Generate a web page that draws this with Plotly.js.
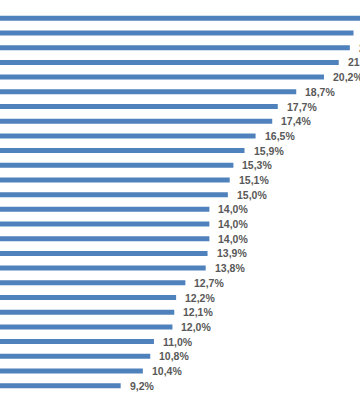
<!DOCTYPE html>
<html>
<head>
<meta charset="utf-8">
<script src="https://cdn.plot.ly/plotly-3.0.1.min.js"></script>
<style>html,body{margin:0;padding:0;background:#fff;}#chart{width:360px;height:400px;}</style>
</head>
<body>
<div id="chart"></div>
<script>
// Categories (their names are cut off in the reference; placeholders)
const categories = ['A','B','C','D','E','F','G','H','I','J','K','L','M','N','O','P','Q','R','S','T','U','V','W','X','Y','Z'];
// Percent values, top to bottom
const values = [23.0, 21.8, 21.6, 21.0, 20.2, 18.7, 17.7, 17.4, 16.5, 15.9, 15.3, 15.1, 15.0, 14.0, 14.0, 14.0, 13.9, 13.8, 12.7, 12.2, 12.1, 12.0, 11.0, 10.8, 10.4, 9.2];

const trace = {
  type: 'bar',
  orientation: 'h',
  x: values,
  y: categories,
  marker: {color: '#4F81BD', line: {width: 0}},
  hoverinfo: 'skip'
};

const annotations = values.map((v, i) => ({
  x: v, y: categories[i], xref: 'x', yref: 'y',
  text: v.toFixed(1).replace('.', ',') + '%',
  showarrow: false, xanchor: 'left', yanchor: 'middle', xshift: 7,
  font: {family: 'Liberation Sans, Arial, sans-serif', size: 10.5, color: '#595959', weight: 'bold'}
}));

const layout = {
  width: 360, height: 400,
  margin: {l: 0, r: 0, t: 11, b: 7, pad: 0},
  paper_bgcolor: '#ffffff', plot_bgcolor: '#ffffff',
  bargap: 0.66,
  showlegend: false,
  annotations: annotations,
  xaxis: {range: [2.67, 22.15], showgrid: false, zeroline: false, showticklabels: false, showline: false, ticks: ''},
  yaxis: {type: 'category', range: [25.5, -0.5], showgrid: false, zeroline: false, showticklabels: false, showline: false, ticks: ''}
};

Plotly.newPlot('chart', [trace], layout, {staticPlot: true, displayModeBar: false});
</script>
</body>
</html>
